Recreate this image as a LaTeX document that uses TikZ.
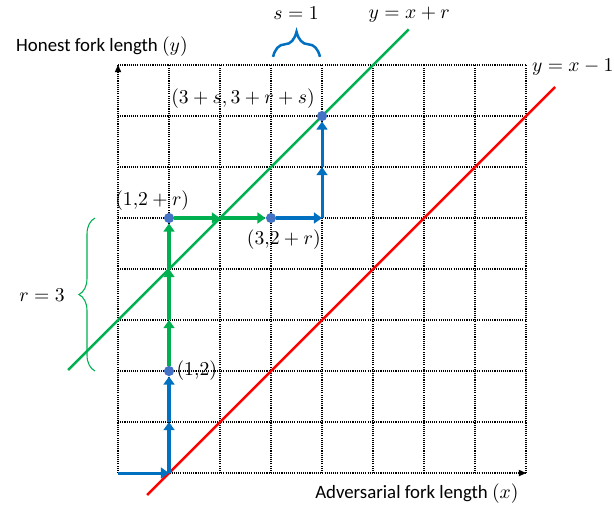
\documentclass[tikz,border=0pt]{standalone}
\usepackage{fontspec}
\setmainfont{Carlito}
\usetikzlibrary{positioning, arrows.meta, decorations.pathreplacing}
\definecolor{arrblue}{HTML}{0070C0}
\definecolor{arrgreen}{HTML}{00B050}
\definecolor{dotblue}{HTML}{4472C4}

\begin{document}
\begin{tikzpicture}[
  font=\fontsize{11}{13}\selectfont,
  gridline/.style={line width=0.6pt, dash pattern=on 0.6pt off 0.6pt},
  axis/.style={-{Triangle[length=4pt,width=3.5pt]}, line width=0.6pt, dash pattern=on 0.6pt off 0.6pt},
  axislabel/.style={font=\fontsize{10.5}{13}\selectfont},
  bluestep/.style={-{Triangle[length=4.5pt,width=6pt]}, line width=1.7pt, draw=arrblue},
  greenstep/.style={-{Triangle[length=4.5pt,width=6pt]}, line width=1.7pt, draw=arrgreen},
  vtx/.style={circle, fill=dotblue, inner sep=0pt, minimum size=0.2cm},
  boundary/.style={line width=1.4pt},
  ptlabel/.style={inner sep=1pt}
]
\useasboundingbox (-2.314,-0.647) rectangle (9.725,9.275);

% grid and axes
\draw[gridline] (0,0) grid (8,8);
\coordinate (o) at (0,0);
\coordinate (xend) at (8,0);
\coordinate (yend) at (0,8);
\draw[axis] (o) -- (xend);
\draw[axis] (o) -- (yend);
\node[axislabel, anchor=west] (ylab) at (-2.12,8.37) {Honest fork length $(y)$};
\node[axislabel] (xlab) at (5.86,-0.41) {Adversarial fork length $(x)$};

% the two boundary lines
\coordinate (gs) at (-0.98,2.02);
\coordinate (ge) at (5.7,8.7);
\coordinate (rs) at (0.57,-0.43);
\coordinate (re) at (8.57,7.57);
\draw[boundary, draw=arrgreen] (gs) -- (ge);
\draw[boundary, draw=red] (rs) -- (re);
\node (glab) at (5.71,8.98) {$y=x+r$};
\node[anchor=east, inner sep=0.5pt] (rlab) at (9.74,7.96) {$y=x-1$};

% states on the path
\coordinate (p10) at (1,0);
\coordinate (p11) at (1,1);
\coordinate (p13) at (1,3);
\coordinate (p14) at (1,4);
\coordinate (p25) at (2,5);
\coordinate (p45) at (4,5);
\coordinate (p46) at (4,6);
\node[vtx] (v12) at (1,2) {};
\node[vtx] (v15) at (1,5) {};
\node[vtx] (v35) at (3,5) {};
\node[vtx] (v47) at (4,7) {};

% blue steps up to (1,2)
\draw[bluestep] (o) -- (p10);
\draw[bluestep] (p10) -- (p11);
\draw[bluestep] (p11) -- (v12);

% green steps
\draw[greenstep] (v12) -- (p13);
\draw[greenstep] (p13) -- (p14);
\draw[greenstep] (p14) -- (v15);
\draw[greenstep] (v15) -- (p25);
\draw[greenstep] (p25) -- (v35);

% blue steps up to the boundary
\draw[bluestep] (v35) -- (p45);
\draw[bluestep] (p45) -- (p46);
\draw[bluestep] (p46) -- (v47);

% point labels
\node[ptlabel, right=0pt of v12] (l12) {$(1{,}2)$};
\node[ptlabel] (l15) at (0.67,5.35) {$(1{,}2+r)$};
\node[ptlabel] (l35) at (3.25,4.57) {$(3{,}2+r)$};
\node[ptlabel] (l47) at (2.45,7.35) {$(3+s,3+r+s)$};

% braces
\draw[draw=arrgreen, line width=0.6pt, decorate, decoration={brace, amplitude=9pt}] (-0.45,2) -- (-0.45,5);
\node (rval) at (-1.49,3.49) {$r=3$};
\draw[draw=arrblue, line width=1.4pt, decorate, decoration={brace, amplitude=14pt}] (3.04,8.16) -- (3.96,8.16);
\node (sval) at (3.49,9.02) {$s=1$};

\end{tikzpicture}
\end{document}
